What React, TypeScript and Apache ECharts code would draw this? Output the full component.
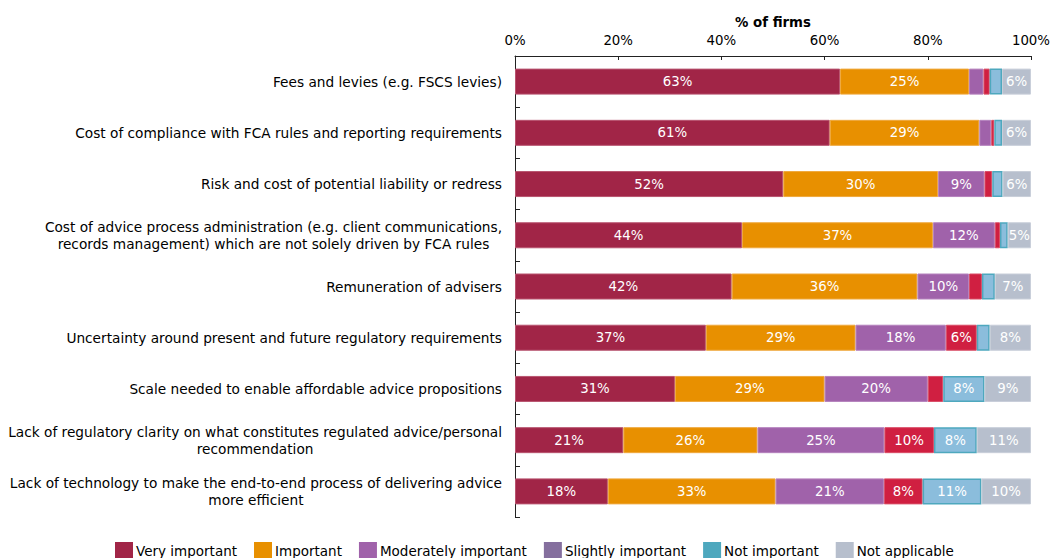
import React, { useEffect, useRef } from "react";
import * as echarts from "echarts";

const categories = [
  "Fees and levies (e.g. FSCS levies)",
  "Cost of compliance with FCA rules and reporting requirements",
  "Risk and cost of potential liability or redress",
  "Cost of advice process administration (e.g. client communications,\nrecords management) which are not solely driven by FCA rules",
  "Remuneration of advisers",
  "Uncertainty around present and future regulatory requirements",
  "Scale needed to enable affordable advice propositions",
  "Lack of regulatory clarity on what constitutes regulated advice/personal\nrecommendation",
  "Lack of technology to make the end-to-end process of delivering advice\nmore efficient",
];

const seriesNames = [
  "Very important",
  "Important",
  "Moderately important",
  "Slightly important",
  "Not important",
  "Not applicable",
];

const veryImportant = [63, 61, 52, 44, 42, 37, 31, 21, 18];
const important = [25, 29, 30, 37, 36, 29, 29, 26, 32.5];
const moderatelyImportant = [2.8, 2.3, 9, 12, 10, 17.5, 20, 24.6, 21];
const slightlyImportant = [1.2, 0.6, 1.5, 1, 2.5, 6, 3, 9.6, 7.5];
const notImportant = [2.4, 1.5, 2, 1.5, 2.5, 2.5, 8, 8.3, 11.4];
const notApplicable = [5.6, 5.6, 5.5, 4.5, 7, 8, 9, 10.5, 9.6];

const xTicks = [0, 20, 40, 60, 80, 100];

const FONT = '"DejaVu Sans", Verdana, sans-serif';
const FS = 13.33;
const CAT_FS = 13.7;
const LEG_FS = 13.5;

const barColors = ["#a12547", "#e89000", "#a062aa", "#d01f41", "#8bbddc", "#b7bfcd"];
const barBorders = ["#b8546f", "#efa83d", "#b582bd", "#d94d66", "#4ea8be", "#c8ced9"];
const legendColors = ["#a12547", "#e89000", "#a062aa", "#856f9e", "#4ea8be", "#b7bfcd"];

export default function App() {
  const ref = useRef<HTMLDivElement>(null);

  useEffect(() => {
    document.body.style.margin = "0";
    if (!ref.current) return;
    const chart = echarts.init(ref.current, undefined, { renderer: "svg" });

    const canvas = document.createElement("canvas");
    const ctx = canvas.getContext("2d")!;
    ctx.font = `${CAT_FS}px "DejaVu Sans"`;
    const rich: Record<string, any> = {
      n: { fontSize: CAT_FS, fontFamily: FONT, color: "#000", lineHeight: 17 },
    };
    categories.forEach((c, i) => {
      const lines = c.split("\n");
      if (lines.length > 1) {
        const w1 = ctx.measureText(lines[0]).width;
        const w2 = ctx.measureText(lines[1]).width;
        rich["p" + i] = {
          fontSize: CAT_FS,
          fontFamily: FONT,
          color: "#000",
          lineHeight: 17,
          padding: [0, Math.max(0, (w1 - w2) / 2), 0, 0],
        };
      }
    });

    const dataSets = [veryImportant, important, moderatelyImportant, slightlyImportant, notImportant, notApplicable];

    const series = dataSets.map((d, i) => ({
      name: seriesNames[i],
      type: "bar",
      stack: "total",
      barWidth: 26,
      data: d,
      itemStyle: {
        color: barColors[i],
        borderColor: barBorders[i],
        borderWidth: i === 4 ? 1.5 : 1,
      },
      label: {
        show: true,
        position: "inside",
        color: "#fff",
        fontFamily: FONT,
        fontSize: FS,
        formatter: (p: any) => (p.value >= 4.5 ? Math.round(p.value) + "%" : ""),
      },
      emphasis: { disabled: true },
    }));

    chart.setOption({
      animation: false,
      textStyle: { fontFamily: FONT },
      grid: { left: 515, right: 19, top: 56, bottom: 41, containLabel: false },
      legend: {
        left: 115,
        top: 542,
        padding: 0,
        icon: "rect",
        itemWidth: 18,
        itemHeight: 17,
        itemGap: 17,
        textStyle: { fontFamily: FONT, fontSize: LEG_FS, color: "#000", padding: [0, 0, 0, -2] },
        data: seriesNames.map((n, i) => ({ name: n, itemStyle: { color: legendColors[i], borderWidth: 0 } })),
        selectedMode: false,
      },
      xAxis: {
        type: "value",
        position: "top",
        min: xTicks[0],
        max: xTicks[xTicks.length - 1],
        interval: 20,
        name: "% of firms",
        nameLocation: "middle",
        nameGap: 27,
        nameTextStyle: { fontFamily: FONT, fontSize: FS, fontWeight: "bold", color: "#000" },
        axisLine: { show: true, lineStyle: { color: "#222", width: 1 } },
        axisTick: { show: true, inside: true, length: 4, lineStyle: { color: "#222" } },
        axisLabel: { formatter: "{value}%", fontFamily: FONT, fontSize: FS, color: "#000", margin: 9 },
        splitLine: { show: false },
      },
      yAxis: {
        type: "category",
        inverse: true,
        data: categories,
        axisLine: { show: true, lineStyle: { color: "#222", width: 1 } },
        axisTick: { show: true, inside: true, length: 5, lineStyle: { color: "#222" } },
        axisLabel: {
          margin: 13,
          fontFamily: FONT,
          fontSize: CAT_FS,
          color: "#000",
          lineHeight: 17,
          rich,
          formatter: (v: string) => {
            const i = categories.indexOf(v);
            const lines = v.split("\n");
            if (lines.length > 1) return `{n|${lines[0]}}\n{p${i}|${lines[1]}}`;
            return `{n|${v}}`;
          },
        },
      },
      series,
    });

    return () => chart.dispose();
  }, []);

  return <div ref={ref} style={{ width: 1053, height: 558 }} />;
}
